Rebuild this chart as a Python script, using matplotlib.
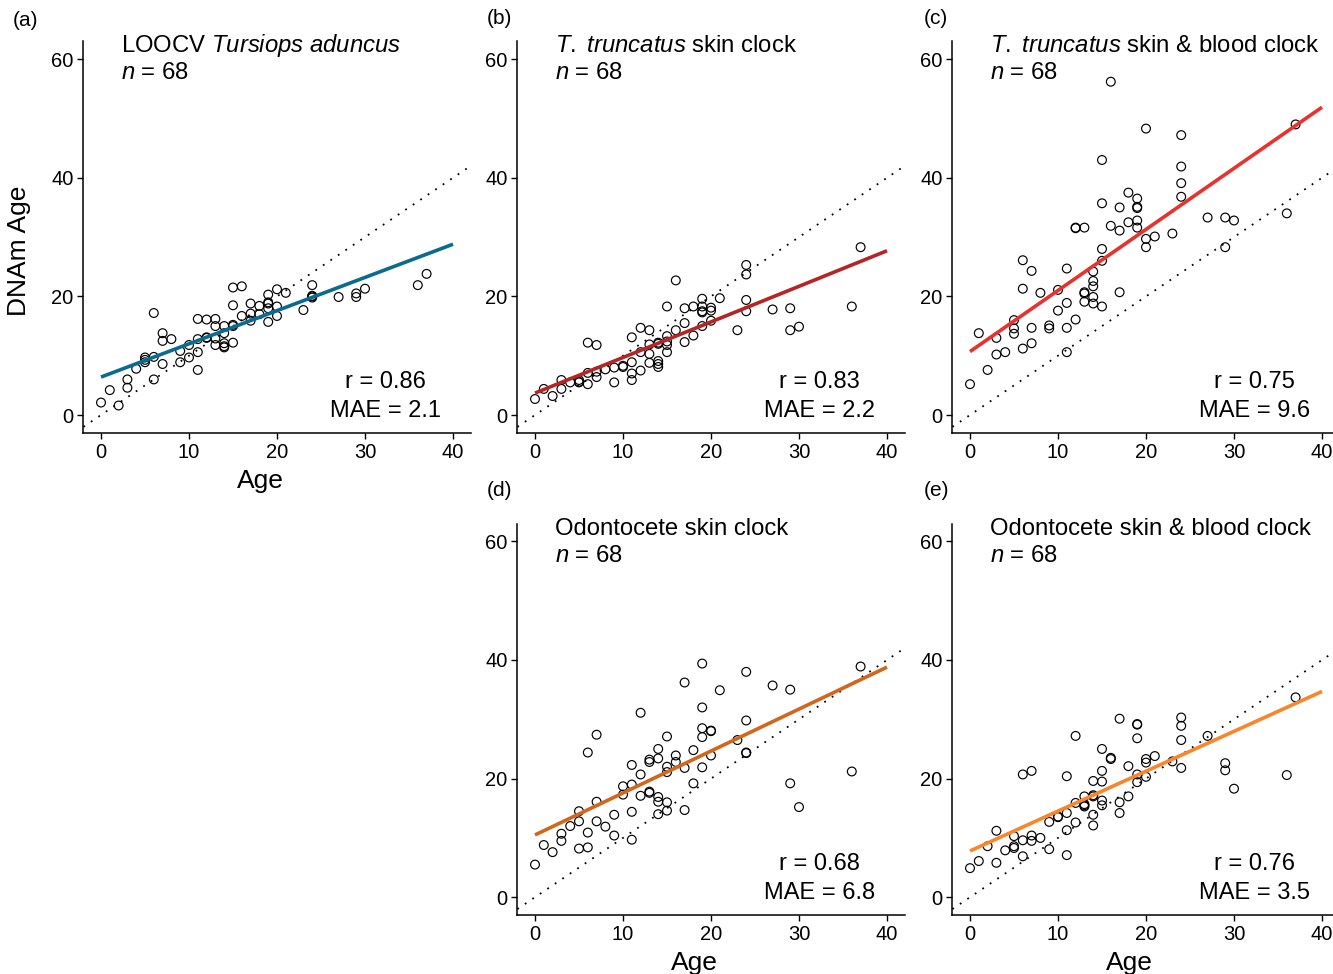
import matplotlib
matplotlib.use("Agg")
import matplotlib.pyplot as plt
import numpy as np

plt.rcParams['font.family'] = ['Liberation Sans', 'DejaVu Sans']
plt.rcParams['mathtext.fontset'] = 'custom'
plt.rcParams['mathtext.rm'] = 'Liberation Sans'
plt.rcParams['mathtext.it'] = 'Liberation Sans:italic'
plt.rcParams['mathtext.default'] = 'regular'

# ---------------- data ----------------
ages = [0, 1, 2, 3, 3, 4, 5, 5, 5, 6, 6, 6, 7, 7, 7, 8, 9, 9, 10, 10,
        11, 11, 11, 11, 12, 12, 12, 13, 13, 13, 13, 14, 14, 14, 14, 14,
        15, 15, 15, 15, 15, 16, 16, 17, 17, 17, 18, 18, 19, 19, 19, 19, 19,
        20, 20, 20, 21, 23, 24, 24, 24, 24, 27, 29, 29, 30, 36, 37]

dnam_a = [2.1, 4.2, 1.6, 6.0, 4.6, 7.8, 9.7, 8.9, 9.3, 17.2, 9.8, 6.0, 13.8, 12.5, 8.6, 12.8, 10.8, 8.9, 11.8, 9.7,
          16.2, 12.8, 10.6, 7.6, 16.1, 13.1, 13.0, 16.2, 15.0, 12.9, 11.8, 15.0, 13.8, 12.1, 11.4, 11.6,
          21.5, 18.5, 15.2, 12.2, 15.0, 21.7, 16.7, 18.8, 17.1, 15.9, 18.4, 17.0, 20.3, 18.8, 18.0, 15.7, 19.0,
          21.2, 18.3, 16.7, 20.6, 17.7, 21.9, 20.0, 19.8, 20.1, 19.9, 20.5, 19.9, 21.3, 21.9, 23.8]

dnam_b = [2.7, 4.4, 3.2, 5.9, 4.4, 5.5, 5.9, 5.5, 5.6, 12.2, 7.1, 5.2, 11.8, 7.3, 6.4, 7.7, 8.0, 5.5, 8.3, 8.1,
          13.1, 8.9, 7.0, 5.9, 14.7, 10.6, 7.5, 14.3, 11.9, 10.3, 8.8, 12.2, 9.1, 8.6, 8.1, 12.0,
          18.3, 13.3, 11.8, 10.6, 12.4, 22.7, 14.3, 18.0, 15.5, 12.3, 18.3, 13.4, 19.6, 18.3, 17.5, 15.0, 17.3,
          18.1, 17.6, 15.9, 19.7, 14.3, 25.3, 23.7, 19.4, 17.5, 17.8, 18.0, 14.3, 14.9, 18.3, 28.3]

dnam_c = [5.2, 13.8, 7.6, 13.0, 10.2, 10.6, 16.0, 14.6, 13.7, 26.1, 21.3, 11.2, 24.3, 14.7, 12.1, 20.6, 15.1, 14.6, 21.1, 17.6,
          24.7, 18.9, 14.7, 10.6, 31.6, 16.1, 31.5, 31.6, 20.7, 20.5, 19.1, 24.2, 22.6, 21.7, 19.9, 18.8,
          43.0, 35.7, 28.0, 26.0, 18.3, 56.2, 31.9, 35.0, 31.1, 20.7, 37.5, 32.5, 36.5, 35.1, 34.9, 32.8, 31.6,
          48.3, 29.7, 28.3, 30.1, 30.6, 47.2, 41.9, 39.1, 36.8, 33.3, 33.3, 28.3, 32.8, 34.0, 49.0]

dnam_d = [5.5, 8.8, 7.6, 10.7, 9.5, 12.0, 14.5, 12.8, 8.2, 24.4, 10.9, 8.4, 27.4, 16.1, 12.8, 11.9, 13.9, 10.4, 18.7, 17.3,
          22.3, 19.0, 14.4, 9.7, 31.1, 20.7, 17.1, 23.2, 22.8, 17.8, 17.6, 25.0, 23.4, 16.9, 16.1, 14.0,
          27.1, 22.0, 21.1, 16.0, 14.6, 23.9, 22.8, 36.2, 21.8, 14.7, 24.8, 19.2, 39.4, 32.0, 28.5, 27.0, 21.9,
          28.1, 28.0, 23.9, 34.9, 26.5, 38.0, 29.8, 24.3, 24.4, 35.7, 35.0, 19.2, 15.2, 21.2, 38.9]

dnam_e = [4.9, 6.1, 8.6, 11.2, 5.8, 7.9, 10.3, 8.6, 8.3, 20.7, 9.6, 6.9, 21.3, 10.4, 9.5, 10.0, 12.7, 8.1, 13.6, 13.5,
          20.4, 14.2, 11.3, 7.1, 27.2, 15.9, 12.6, 17.0, 15.7, 15.3, 15.5, 19.6, 17.0, 13.9, 12.1, 17.2,
          25.0, 21.3, 19.5, 16.3, 15.5, 23.5, 23.3, 30.1, 16.0, 14.2, 22.1, 17.0, 29.2, 29.1, 26.8, 20.7, 19.4,
          23.3, 22.7, 20.3, 23.8, 22.9, 30.3, 28.9, 26.5, 21.8, 27.2, 22.6, 21.4, 18.3, 20.6, 33.7]

# regression lines (intercept, slope)
fit_intercepts = [6.4, 3.7, 10.7, 10.5, 7.8]
fit_slopes = [0.56, 0.60, 1.030, 0.7075, 0.6725]

panel_letters = ['(a)', '(b)', '(c)', '(d)', '(e)']
titles = [r'LOOCV $\mathit{Tursiops}$ $\mathit{aduncus}$',
          r'$\mathit{T.}$ $\mathit{truncatus}$ skin clock',
          r'$\mathit{T.}$ $\mathit{truncatus}$ skin & blood clock',
          'Odontocete skin clock',
          'Odontocete skin & blood clock']
n_label = r'$\mathit{n}$ = 68'
r_values = ['0.86', '0.83', '0.75', '0.68', '0.76']
mae_values = ['2.1', '2.2', '9.6', '6.8', '3.5']
line_colors = ['#0b6b8e', '#b52525', '#e8322e', '#d2661c', '#f9862a']

x_ticks = [0, 10, 20, 30, 40]
y_ticks = [0, 20, 40, 60]

# ---------------- figure ----------------
W, H = 1333, 974
fig = plt.figure(figsize=(W / 100, H / 100), dpi=100)


def px_axes(left, top, width, height):
    return fig.add_axes([left / W, 1 - (top + height) / H, width / W, height / H])


aw, ah = 387.2, 391.4
positions = [(83.4, 41.4), (517.4, 41.4), (952.4, 41.4), (517.4, 523.6), (952.4, 523.6)]
letter_pos = [(13, 21), (487, 19), (924, 19), (487, 491), (924, 491)]
series = [dnam_a, dnam_b, dnam_c, dnam_d, dnam_e]

for i in range(5):
    left, top = positions[i]
    ax = px_axes(left, top, aw, ah)
    ax.set_xlim(-2, 42)
    ax.set_ylim(-3, 63)
    ident = np.array([-2, 42])
    ax.plot(ident, ident, color='black', linestyle=(0, (1, 4)), linewidth=1.3, zorder=1)
    ax.scatter(ages, series[i], s=40, facecolors='none', edgecolors='black', linewidths=0.85, zorder=2)
    xs = np.array([0, 40])
    ax.plot(xs, fit_intercepts[i] + fit_slopes[i] * xs, color=line_colors[i], linewidth=2.6,
            solid_capstyle='butt', zorder=3)

    for side in ['top', 'right']:
        ax.spines[side].set_visible(False)
    for side in ['left', 'bottom']:
        ax.spines[side].set_linewidth(1.1)
    ax.set_xticks(x_ticks)
    ax.set_yticks(y_ticks)
    ax.tick_params(axis='both', length=4, width=1.0, labelsize=14.5, pad=3, colors='black')

    tr = ax.get_xaxis_transform()  # x in data, y in axes fraction
    ax.text(2.3, 0.972, titles[i], transform=tr, fontsize=17.2, va='baseline', ha='left')
    ax.text(2.3, 0.903, n_label, transform=tr, fontsize=17.2, va='baseline', ha='left')
    ax.text(32.3, 0.1146, 'r = ' + r_values[i], transform=tr, fontsize=17,
            va='baseline', ha='center')
    ax.text(32.3, 0.040, 'MAE = ' + mae_values[i], transform=tr, fontsize=17,
            va='baseline', ha='center')

    if i in (0, 3, 4):
        ax.set_xlabel('Age', fontsize=19)
        ax.xaxis.set_label_coords(0.457, -0.092)
    if i == 0:
        ax.set_ylabel('DNAm Age', fontsize=19)
        ax.yaxis.set_label_coords(-0.135, 0.465)

    lx, ly = letter_pos[i]
    fig.text(lx / W, 1 - ly / H, panel_letters[i], fontsize=15, ha='left', va='center')

fig.savefig('out.png', dpi=100)
